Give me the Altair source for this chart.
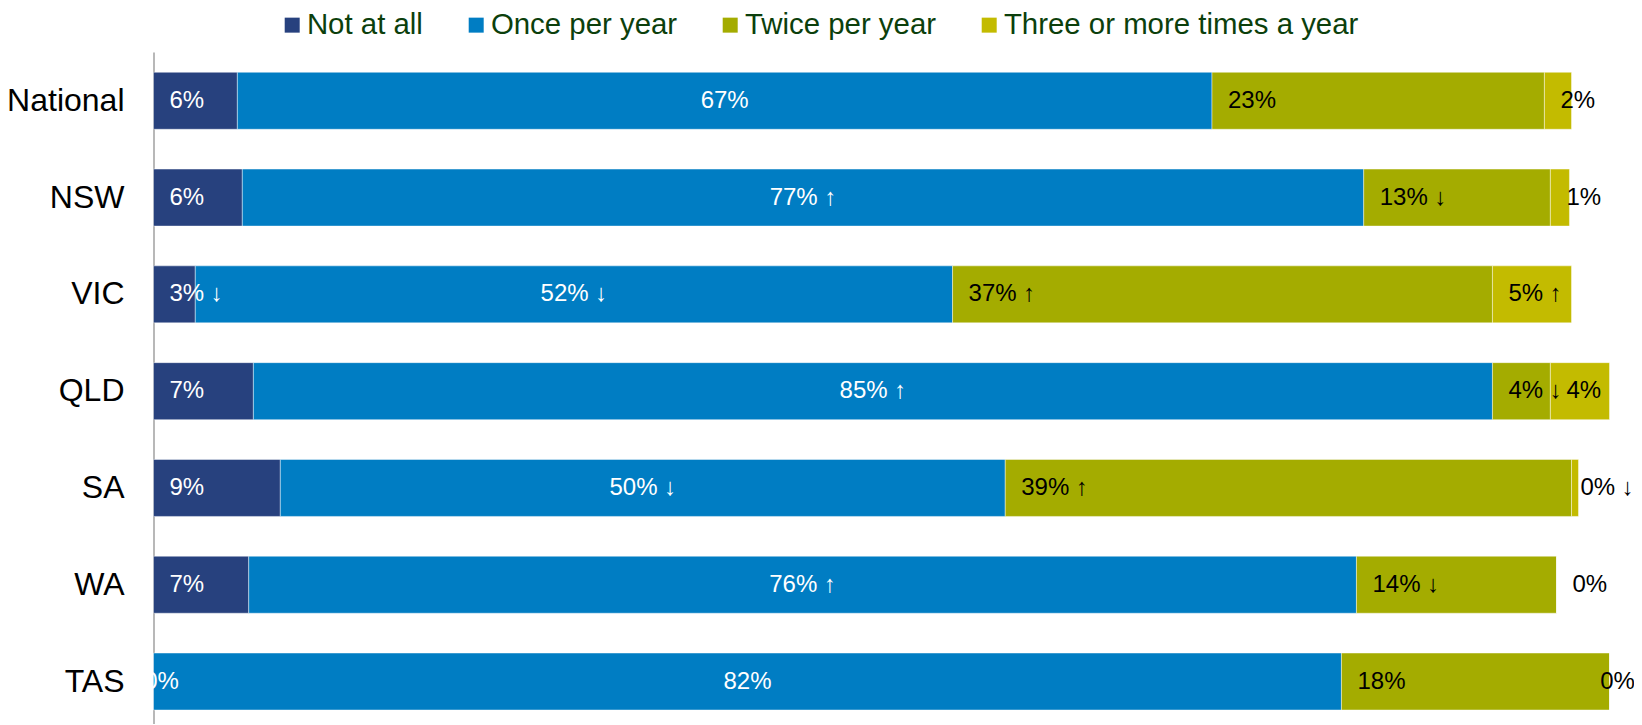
import altair as alt
import pandas as pd

regions = ["National", "NSW", "VIC", "QLD", "SA", "WA", "TAS"]
series_names = ["Not at all", "Once per year", "Twice per year", "Three or more times a year"]
colors = ["#27417E", "#007DC3", "#A4AC00", "#C3BB00"]

not_at_all = [5.76, 6.10, 2.87, 6.86, 8.71, 6.54, 0.0]
once = [66.94, 77.02, 52.01, 85.10, 49.79, 76.08, 81.59]
twice = [22.83, 12.82, 37.08, 3.98, 38.89, 13.74, 18.41]
three = [1.86, 1.31, 5.43, 4.06, 0.48, 0.0, 0.0]

not_at_all_lbl = ["6%", "6%", "3% ↓", "7%", "9%", "7%", "0%"]
once_lbl = ["67%", "77% ↑", "52% ↓", "85% ↑", "50% ↓", "76% ↑", "82%"]
twice_lbl = ["23%", "13% ↓", "37% ↑", "4% ↓", "39% ↑", "14% ↓", "18%"]
three_lbl = ["2%", "1%", "5% ↑", "4%", "0% ↓", "0%", "0%"]

values = [not_at_all, once, twice, three]
labels = [not_at_all_lbl, once_lbl, twice_lbl, three_lbl]

rows = []
for i, reg in enumerate(regions):
    cum = 0.0
    for s, name in enumerate(series_names):
        v = values[s][i]
        rows.append({
            "region": reg,
            "series": name,
            "order": s,
            "start": cum,
            "end": cum + v,
            "mid": cum + v / 2,
            "label": labels[s][i],
        })
        cum += v
df = pd.DataFrame(rows)

FONT = "Liberation Sans"

yenc = alt.Y(
    "region:N",
    sort=regions,
    scale=alt.Scale(paddingInner=0.4113, paddingOuter=0.1771, align=0.592),
    axis=alt.Axis(
        title=None,
        ticks=False,
        grid=False,
        domain=True,
        domainColor="#A0A0A0",
        domainWidth=1.5,
        labelFontSize=32,
        labelFont=FONT,
        labelColor="#000000",
        labelPadding=29.5,
    ),
)
xscale = alt.Scale(domain=[0, 100], nice=False, zero=True)

bars = alt.Chart(df).mark_bar(stroke="#ffffff", strokeWidth=0.8, strokeOpacity=0.55).encode(
    y=yenc,
    x=alt.X("start:Q", scale=xscale, axis=None),
    x2="end:Q",
    color=alt.Color(
        "series:N",
        scale=alt.Scale(domain=series_names, range=colors),
        legend=alt.Legend(
            title=None,
            orient="none",
            legendX=124,
            legendY=-42,
            direction="horizontal",
            columns=4,
            symbolType="square",
            symbolSize=225,
            symbolStrokeWidth=0,
            symbolOpacity=1,
            labelFont=FONT,
            labelFontSize=29.4,
            labelColor="#0C3F0C",
            labelOffset=0,
            labelLimit=600,
            columnPadding=38,
            padding=0,
        ),
    ),
)

txt_color = alt.condition(
    "datum.series == 'Not at all' || datum.series == 'Once per year'",
    alt.value("#FFFFFF"),
    alt.value("#000000"),
)

edge_test = "datum.end - datum.start == 0 && (datum.start == 0 || datum.start >= 99.5)"
near_right = "datum.start >= 97"


def text_layer(filt, x_field, align, dx):
    return alt.Chart(df).transform_filter(filt).mark_text(
        align=align, baseline="middle", dx=dx, fontSize=24, font=FONT
    ).encode(
        y=alt.Y("region:N", sort=regions),
        x=alt.X(f"{x_field}:Q", scale=xscale),
        text="label:N",
        color=txt_color,
    )


base_labels = text_layer(
    f"datum.series != 'Once per year' && !({edge_test}) && !({near_right})", "start", "left", 16
)
right_labels = text_layer(
    f"datum.series != 'Once per year' && !({edge_test}) && ({near_right})", "start", "left", 9
)
edge_labels = text_layer(edge_test, "start", "center", 8)
mid_labels = text_layer("datum.series == 'Once per year'", "mid", "center", 0)

chart = alt.layer(bars, base_labels, right_labels, edge_labels, mid_labels).properties(
    width=1456,
    height=672,
    padding={"left": 145.5, "top": 44, "right": 24.5, "bottom": 0},
    autosize=alt.AutoSizeParams(type="none"),
).configure(background="white").configure_view(stroke=None, strokeWidth=0)

chart.save("out.html", embed_options={"renderer": "svg", "actions": False})
